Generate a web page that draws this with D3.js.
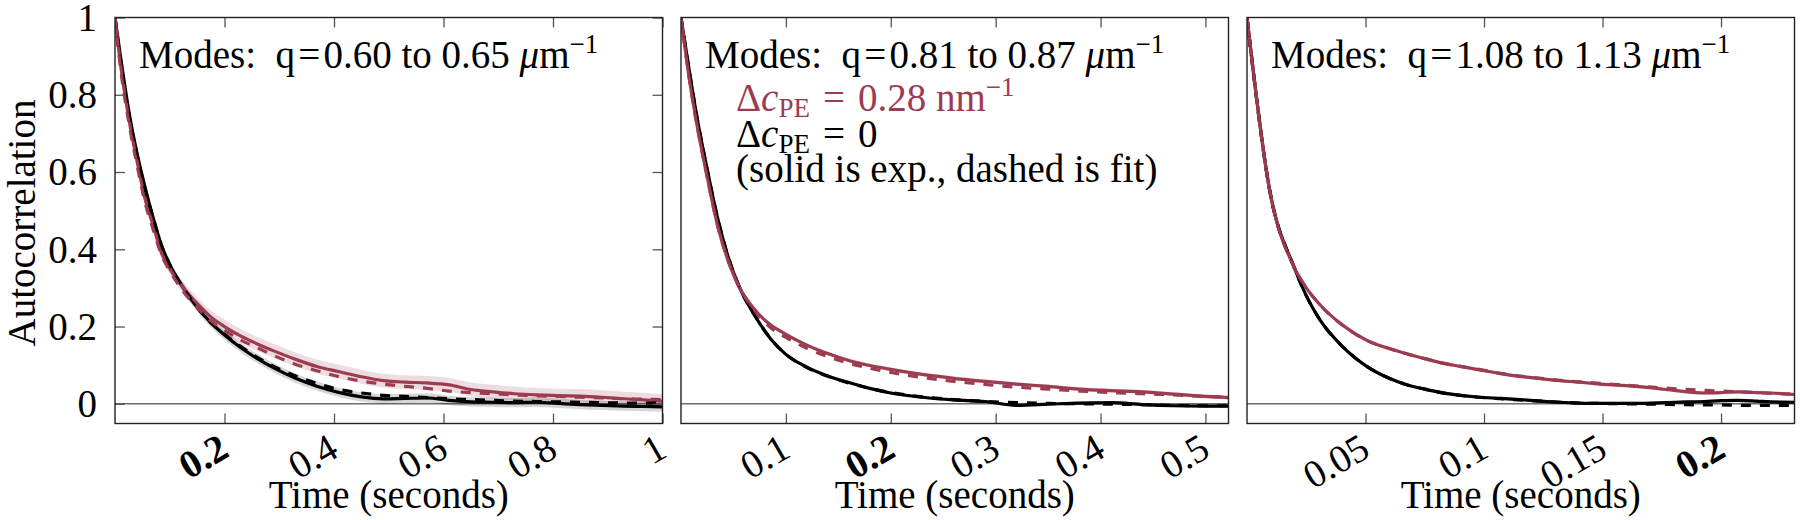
<!DOCTYPE html>
<html>
<head>
<meta charset="utf-8">
<script src="https://cdn.jsdelivr.net/npm/d3@7"></script>
<style>
  html, body { margin: 0; padding: 0; background: #fff; }
</style>
</head>
<body>
<svg id="chart" width="1800" height="520"></svg>
<script>
// ---------------- DATA ----------------
const modeRanges = [["0.60", "0.65"], ["0.81", "0.87"], ["1.08", "1.13"]];
const xMaxes = [1.0, 0.522, 0.231];
const yTicks = [0, 0.2, 0.4, 0.6, 0.8, 1];
const yTickLabels = ["0", "0.2", "0.4", "0.6", "0.8", "1"];
const xTicks1 = [0.2, 0.4, 0.6, 0.8, 1];
const xTickLabels1 = ["0.2", "0.4", "0.6", "0.8", "1"];
const xTicks2 = [0.1, 0.2, 0.3, 0.4, 0.5];
const xTickLabels2 = ["0.1", "0.2", "0.3", "0.4", "0.5"];
const xTicks3 = [0.05, 0.1, 0.15, 0.2];
const xTickLabels3 = ["0.05", "0.1", "0.15", "0.2"];
const boldTick = "0.2";

// Panel 1 (q = 0.60 - 0.65)
const time1 = [0, 0.01, 0.025, 0.04, 0.055, 0.07, 0.085, 0.1, 0.125, 0.15, 0.175, 0.2, 0.23, 0.26, 0.29, 0.33, 0.37, 0.41, 0.45, 0.49, 0.53, 0.57, 0.61, 0.65, 0.69, 0.73, 0.77, 0.81, 0.85, 0.89, 0.93, 0.965, 1.0];
const redExp1 = [1, 0.88, 0.74, 0.63, 0.53, 0.46, 0.39, 0.35, 0.30, 0.26, 0.225, 0.20, 0.175, 0.155, 0.137, 0.115, 0.096, 0.083, 0.07, 0.06, 0.056, 0.054, 0.049, 0.037, 0.031, 0.026, 0.023, 0.021, 0.02, 0.017, 0.013, 0.01, 0.007];
const redFit1 = [1, 0.87, 0.73, 0.62, 0.52, 0.45, 0.385, 0.345, 0.29, 0.25, 0.215, 0.19, 0.165, 0.145, 0.125, 0.102, 0.085, 0.07, 0.059, 0.051, 0.045, 0.04, 0.033, 0.029, 0.026, 0.023, 0.021, 0.019, 0.017, 0.015, 0.013, 0.012, 0.011];
const blackExp1 = [1, 0.90, 0.76, 0.65, 0.56, 0.48, 0.41, 0.36, 0.30, 0.25, 0.21, 0.178, 0.145, 0.117, 0.093, 0.066, 0.045, 0.029, 0.018, 0.013, 0.014, 0.015, 0.009, 0.005, 0.004, 0.003, 0.004, 0.001, -0.002, -0.004, -0.006, -0.007, -0.008];
const blackFit1 = [1, 0.89, 0.75, 0.645, 0.555, 0.48, 0.41, 0.36, 0.30, 0.25, 0.21, 0.18, 0.148, 0.12, 0.097, 0.072, 0.052, 0.037, 0.028, 0.022, 0.019, 0.016, 0.013, 0.011, 0.009, 0.007, 0.006, 0.005, 0.004, 0.003, 0.002, 0.002, 0.001];
const redErr1 = [0, 0.006, 0.008, 0.01, 0.011, 0.012, 0.013, 0.014, 0.015, 0.016, 0.017, 0.018, 0.018, 0.018, 0.018, 0.018, 0.018, 0.018, 0.018, 0.018, 0.018, 0.018, 0.018, 0.018, 0.018, 0.018, 0.018, 0.018, 0.018, 0.018, 0.018, 0.018, 0.018];
const blackErr1 = [0, 0.005, 0.007, 0.008, 0.009, 0.01, 0.011, 0.012, 0.012, 0.012, 0.012, 0.012, 0.012, 0.012, 0.012, 0.012, 0.012, 0.012, 0.012, 0.012, 0.012, 0.012, 0.012, 0.012, 0.012, 0.012, 0.012, 0.012, 0.012, 0.012, 0.012, 0.012, 0.012];

// Panel 2 (q = 0.81 - 0.87)
const time2 = [0, 0.008, 0.016, 0.024, 0.035, 0.045, 0.056, 0.07, 0.085, 0.1, 0.12, 0.14, 0.16, 0.18, 0.2, 0.23, 0.26, 0.29, 0.32, 0.35, 0.38, 0.41, 0.44, 0.47, 0.5, 0.522];
const redExp2 = [1, 0.84, 0.71, 0.60, 0.46, 0.37, 0.30, 0.245, 0.205, 0.18, 0.152, 0.13, 0.112, 0.099, 0.089, 0.076, 0.066, 0.058, 0.051, 0.045, 0.038, 0.034, 0.031, 0.025, 0.019, 0.016];
const redFit2 = [1, 0.84, 0.71, 0.60, 0.46, 0.37, 0.30, 0.242, 0.198, 0.172, 0.144, 0.122, 0.105, 0.092, 0.081, 0.068, 0.058, 0.05, 0.043, 0.038, 0.033, 0.029, 0.026, 0.023, 0.019, 0.017];
const blackExp2 = [1, 0.86, 0.73, 0.62, 0.48, 0.38, 0.30, 0.23, 0.17, 0.128, 0.095, 0.072, 0.055, 0.04, 0.028, 0.017, 0.01, 0.006, -0.004, -0.001, 0.002, 0.003, -0.002, -0.005, -0.006, -0.006];
const blackFit2 = [1, 0.86, 0.73, 0.62, 0.48, 0.38, 0.30, 0.23, 0.17, 0.128, 0.094, 0.071, 0.054, 0.04, 0.029, 0.018, 0.011, 0.006, 0.003, 0.001, 0, -0.001, -0.002, -0.004, -0.005, -0.005];
const redErr2 = [0, 0.004, 0.005, 0.005, 0.005, 0.005, 0.005, 0.005, 0.005, 0.005, 0.005, 0.005, 0.005, 0.005, 0.005, 0.005, 0.005, 0.005, 0.005, 0.005, 0.005, 0.005, 0.005, 0.005, 0.005, 0.005];
const blackErr2 = [0, 0.003, 0.004, 0.004, 0.004, 0.004, 0.004, 0.004, 0.004, 0.004, 0.004, 0.004, 0.004, 0.004, 0.004, 0.004, 0.004, 0.004, 0.004, 0.004, 0.004, 0.004, 0.004, 0.004, 0.004, 0.004];

// Panel 3 (q = 1.08 - 1.13)
const time3 = [0, 0.0095, 0.0197, 0.025, 0.031, 0.04, 0.051, 0.06, 0.067, 0.075, 0.082, 0.09, 0.098, 0.107, 0.115, 0.124, 0.132, 0.14, 0.149, 0.16, 0.171, 0.181, 0.193, 0.2, 0.207, 0.215, 0.221, 0.231];
const redExp3 = [1, 0.555, 0.356, 0.30, 0.255, 0.205, 0.163, 0.143, 0.13, 0.117, 0.106, 0.097, 0.088, 0.078, 0.071, 0.065, 0.06, 0.056, 0.051, 0.047, 0.041, 0.034, 0.028, 0.029, 0.031, 0.029, 0.028, 0.024];
const redFit3 = [1, 0.555, 0.356, 0.30, 0.255, 0.205, 0.163, 0.143, 0.13, 0.117, 0.106, 0.097, 0.089, 0.079, 0.072, 0.066, 0.061, 0.057, 0.053, 0.048, 0.043, 0.039, 0.035, 0.033, 0.031, 0.029, 0.027, 0.025];
const blackExp3 = [1, 0.555, 0.356, 0.28, 0.215, 0.15, 0.095, 0.066, 0.05, 0.038, 0.029, 0.022, 0.017, 0.014, 0.011, 0.007, 0.004, 0.002, 0.001, 0.001, 0.002, 0.004, 0.006, 0.008, 0.009, 0.007, 0.005, 0.004];
const blackFit3 = [1, 0.555, 0.356, 0.28, 0.215, 0.15, 0.095, 0.066, 0.05, 0.038, 0.029, 0.022, 0.017, 0.013, 0.01, 0.007, 0.004, 0.002, 0.001, 0, -0.001, -0.002, -0.003, -0.003, -0.004, -0.004, -0.004, -0.004];
const redErr3 = [0, 0.003, 0.004, 0.004, 0.004, 0.004, 0.004, 0.004, 0.004, 0.004, 0.004, 0.004, 0.004, 0.004, 0.004, 0.004, 0.004, 0.004, 0.004, 0.004, 0.004, 0.004, 0.004, 0.004, 0.004, 0.004, 0.004, 0.004];
const blackErr3 = [0, 0.003, 0.004, 0.004, 0.004, 0.004, 0.004, 0.004, 0.004, 0.004, 0.004, 0.004, 0.004, 0.004, 0.004, 0.004, 0.004, 0.004, 0.004, 0.004, 0.004, 0.004, 0.004, 0.004, 0.004, 0.004, 0.004, 0.004];

const legendRed = ["\u0394", "c", "PE", "\u2004=\u20040.28 nm", "\u22121"];
const legendBlack = ["\u0394", "c", "PE", "\u2004=\u20040"];
const legendNote = "(solid is exp., dashed is fit)";
const yLabel = "Autocorrelation";
const xLabel = "Time (seconds)";

// ---------------- STYLE ----------------
const FONT = '"Liberation Serif", "Tinos", "Times New Roman", serif';
const FS = 39;
const FS_TICK = 39;
const FS_SUP = 27;
const RED = "#9d3b51";
const panelLefts = [115, 681, 1247];
const panelWidth = 547.5;
const plotTop = 17.5, plotBottom = 423.5;

const panels = [
  {t: time1, re: redExp1, rf: redFit1, be: blackExp1, bf: blackFit1, rErr: redErr1, bErr: blackErr1, ticks: xTicks1, labels: xTickLabels1},
  {t: time2, re: redExp2, rf: redFit2, be: blackExp2, bf: blackFit2, rErr: redErr2, bErr: blackErr2, ticks: xTicks2, labels: xTickLabels2},
  {t: time3, re: redExp3, rf: redFit3, be: blackExp3, bf: blackFit3, rErr: redErr3, bErr: blackErr3, ticks: xTicks3, labels: xTickLabels3}
];

const svg = d3.select("#chart");
const y = d3.scaleLinear().domain([-0.051, 1]).range([plotBottom, plotTop]);

panels.forEach((p, i) => {
  const left = panelLefts[i];
  const x = d3.scaleLinear().domain([0, xMaxes[i]]).range([left, left + panelWidth]);
  const g = svg.append("g");

  const clipId = "clip" + i;
  svg.append("clipPath").attr("id", clipId).append("rect")
    .attr("x", left).attr("y", plotTop).attr("width", panelWidth).attr("height", plotBottom - plotTop);

  const plot = g.append("g").attr("clip-path", `url(#${clipId})`);

  plot.append("line")
    .attr("x1", x(0)).attr("x2", x(xMaxes[i]))
    .attr("y1", y(0)).attr("y2", y(0))
    .attr("stroke", "#6e6e6e").attr("stroke-width", 1.6);

  const idx = d3.range(p.t.length);
  const area = (vals, err) => d3.area()
    .x(j => x(p.t[j])).y0(j => y(vals[j] - err[j])).y1(j => y(vals[j] + err[j]))
    .curve(d3.curveMonotoneX)(idx);
  const line = (vals) => d3.line()
    .x(j => x(p.t[j])).y(j => y(vals[j]))
    .curve(d3.curveMonotoneX)(idx);

  plot.append("path").attr("d", area(p.re, p.rErr)).attr("fill", RED).attr("fill-opacity", 0.18);
  plot.append("path").attr("d", area(p.be, p.bErr)).attr("fill", "#000").attr("fill-opacity", 0.16);

  plot.append("path").attr("d", line(p.be)).attr("fill", "none").attr("stroke", "#000").attr("stroke-width", 3.2);
  plot.append("path").attr("d", line(p.re)).attr("fill", "none").attr("stroke", RED).attr("stroke-width", 3.2);
  plot.append("path").attr("d", line(p.bf)).attr("fill", "none").attr("stroke", "#000").attr("stroke-width", 3.2).attr("stroke-dasharray", "10,9");
  plot.append("path").attr("d", line(p.rf)).attr("fill", "none").attr("stroke", RED).attr("stroke-width", 3.2).attr("stroke-dasharray", "10,9");

  const xb = g.append("g").attr("transform", `translate(0,${plotBottom})`)
    .call(d3.axisBottom(x).tickValues(p.ticks).tickSize(-10)
      .tickFormat((d, k) => p.labels[k]));
  xb.select(".domain").remove();
  xb.selectAll(".tick line").attr("stroke", "#555").attr("stroke-width", 1.3);
  xb.selectAll(".tick text")
    .attr("x", 0).attr("y", 0).attr("dy", 0)
    .attr("text-anchor", "end")
    .attr("transform", "translate(6,32) rotate(-30)")
    .attr("font-size", FS_TICK).attr("fill", "#000")
    .attr("font-weight", (d, k) => p.labels[k] === boldTick ? "bold" : "normal");

  const xt = g.append("g").attr("transform", `translate(0,${plotTop})`)
    .call(d3.axisTop(x).tickValues(p.ticks).tickSize(-10).tickFormat(""));
  xt.select(".domain").remove();
  xt.selectAll(".tick text").remove();
  xt.selectAll(".tick line").attr("stroke", "#555").attr("stroke-width", 1.3);

  if (i === 0) {
    const yl = g.append("g").attr("transform", `translate(${left},0)`)
      .call(d3.axisLeft(y).tickValues(yTicks).tickSize(-10).tickPadding(18)
        .tickFormat((d, k) => yTickLabels[k]));
    yl.select(".domain").remove();
    yl.selectAll(".tick line").attr("stroke", "#555").attr("stroke-width", 1.3);
    yl.selectAll(".tick text").attr("font-size", FS_TICK).attr("fill", "#000").attr("dy", "0.33em");
    const yr = g.append("g").attr("transform", `translate(${left + panelWidth},0)`)
      .call(d3.axisRight(y).tickValues(yTicks).tickSize(-10).tickFormat(""));
    yr.select(".domain").remove();
    yr.selectAll(".tick text").remove();
    yr.selectAll(".tick line").attr("stroke", "#555").attr("stroke-width", 1.3);
  }

  g.append("rect").attr("x", left).attr("y", plotTop).attr("width", panelWidth).attr("height", plotBottom - plotTop)
    .attr("fill", "none").attr("stroke", "#222").attr("stroke-width", 1.4);

  const tt = g.append("text").attr("x", left + 24).attr("y", 68)
    .attr("font-size", FS).attr("fill", "#000");
  tt.append("tspan").text(`Modes:\u2002q\u200A=\u200A${modeRanges[i][0]} to ${modeRanges[i][1]} `);
  tt.append("tspan").attr("font-style", "italic").text("\u03bc");
  tt.append("tspan").text("m");
  tt.append("tspan").attr("font-size", FS_SUP).attr("dy", -15).text("\u22121");

  g.append("text").attr("x", left + panelWidth / 2).attr("y", 508)
    .attr("text-anchor", "middle").attr("font-size", FS)
    .text(xLabel);

  if (i === 1) {
    const lx = left + 55;
    const l1 = g.append("text").attr("x", lx).attr("y", 111).attr("font-size", FS).attr("fill", RED);
    l1.append("tspan").text(legendRed[0]);
    l1.append("tspan").attr("font-style", "italic").text(legendRed[1]);
    l1.append("tspan").attr("font-size", FS_SUP).attr("dy", 6).text(legendRed[2]);
    l1.append("tspan").attr("dy", -6).text(legendRed[3]);
    l1.append("tspan").attr("font-size", FS_SUP).attr("dy", -15).text(legendRed[4]);

    const l2 = g.append("text").attr("x", lx).attr("y", 146.5).attr("font-size", FS).attr("fill", "#000");
    l2.append("tspan").text(legendBlack[0]);
    l2.append("tspan").attr("font-style", "italic").text(legendBlack[1]);
    l2.append("tspan").attr("font-size", FS_SUP).attr("dy", 6).text(legendBlack[2]);
    l2.append("tspan").attr("dy", -6).text(legendBlack[3]);

    g.append("text").attr("x", lx).attr("y", 182).attr("font-size", FS)
      .text(legendNote);
  }
});

svg.append("text").attr("transform", "translate(35,223) rotate(-90)")
  .attr("text-anchor", "middle").attr("font-size", FS)
  .text(yLabel);

svg.selectAll("g").attr("font-family", null);
svg.selectAll("text").style("font-family", FONT);
</script>
</body>
</html>
